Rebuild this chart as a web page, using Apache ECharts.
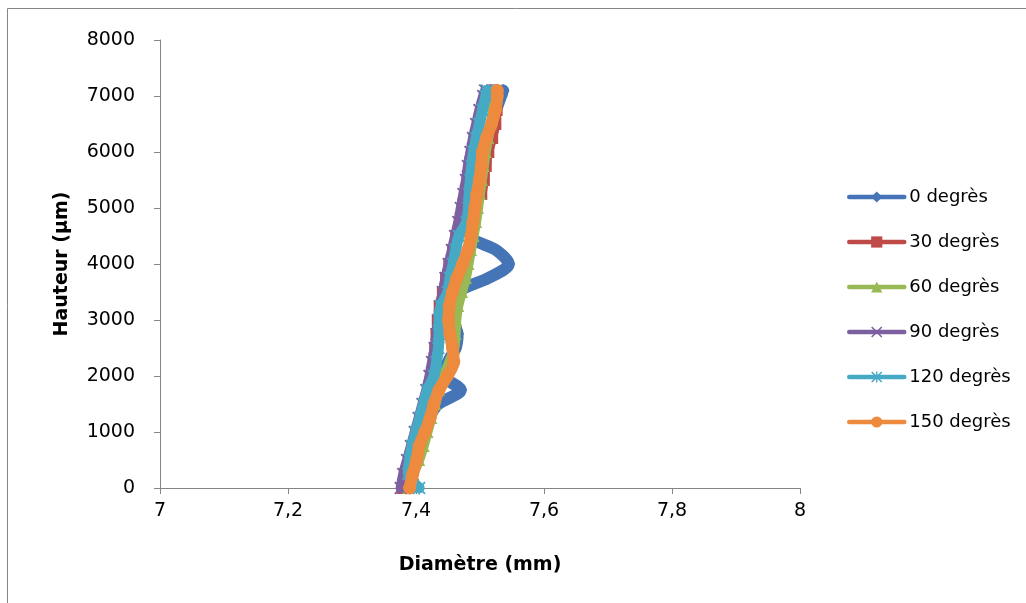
<!DOCTYPE html>
<html>
<head>
<meta charset="utf-8">
<script src="https://cdn.jsdelivr.net/npm/echarts@6/dist/echarts.min.js"></script>
<style>
html,body{margin:0;padding:0;background:#fff;}
#chart{width:1026px;height:603px;}
</style>
</head>
<body>
<div id="chart"></div>
<script>
// Heights (µm)
const heights = [0,250,500,750,1000,1250,1500,1750,2000,2250,2500,2750,3000,3250,3500,3750,4000,4250,4500,4750,5000,5250,5500,5750,6000,6250,6500,6750,7000,7100];
// Diameters (mm) per angle
const d0   = [7.385,7.392,7.398,7.405,7.412,7.420,7.435,7.470,7.445,7.450,7.462,7.465,7.458,7.458,7.465,7.513,7.545,7.525,7.485,7.488,7.492,7.496,7.500,7.503,7.507,7.512,7.518,7.525,7.533,7.536];
const d30  = [7.379,7.383,7.389,7.396,7.404,7.410,7.415,7.420,7.424,7.428,7.430,7.432,7.434,7.437,7.442,7.447,7.452,7.458,7.463,7.470,7.490,7.502,7.506,7.509,7.513,7.519,7.524,7.526,7.524,7.519];
const d60  = [7.388,7.396,7.405,7.412,7.418,7.424,7.430,7.436,7.443,7.452,7.460,7.462,7.463,7.466,7.472,7.478,7.482,7.486,7.490,7.494,7.497,7.500,7.503,7.506,7.509,7.513,7.517,7.520,7.522,7.522];
const d90  = [7.376,7.380,7.386,7.392,7.398,7.404,7.410,7.416,7.421,7.425,7.429,7.432,7.435,7.438,7.442,7.446,7.451,7.456,7.461,7.466,7.470,7.474,7.478,7.481,7.485,7.489,7.494,7.499,7.505,7.508];
const d120 = [7.405,7.388,7.390,7.394,7.400,7.406,7.412,7.418,7.428,7.432,7.435,7.436,7.436,7.439,7.450,7.453,7.458,7.462,7.467,7.479,7.482,7.483,7.485,7.487,7.490,7.494,7.499,7.504,7.509,7.511];
const d150 = [7.390,7.395,7.401,7.405,7.414,7.422,7.428,7.436,7.449,7.459,7.457,7.453,7.451,7.452,7.457,7.464,7.473,7.481,7.486,7.489,7.492,7.495,7.499,7.502,7.504,7.510,7.518,7.524,7.527,7.527];
const seriesNames = ['0 degrès','30 degrès','60 degrès','90 degrès','120 degrès','150 degrès'];
const xTitle = 'Diamètre (mm)';
const yTitle = 'Hauteur (µm)';

const colors = ['#4575B6','#BE4B48','#98B954','#7D60A0','#46AAC5','#EE8A3E'];
const XPATH = 'path://M0,1 L1,0 L5,4 L9,0 L10,1 L6,5 L10,9 L9,10 L5,6 L1,10 L0,9 L4,5 Z';
const STARPATH = 'path://M0,1 L1,0 L5,4 L9,0 L10,1 L6,5 L10,9 L9,10 L5,6 L1,10 L0,9 L4,5 Z M4.4,0 L5.6,0 L5.6,10 L4.4,10 Z';
const symbols = ['diamond','rect','triangle',XPATH,STARPATH,'circle'];
const allX = [d0,d30,d60,d90,d120,d150];
const widths = [12,10,10,10,11,12];
const sizes  = [13,12,12,13,13,13];

const FONT = 'DejaVu Sans';
const series = allX.map((xs, i) => ({
  name: seriesNames[i],
  type: 'line',
  data: xs.map((x, k) => [x, heights[k]]),
  smooth: 0.3,
  symbol: symbols[i],
  symbolSize: sizes[i],
  showSymbol: true,
  showAllSymbol: true,
  color: colors[i],
  lineStyle: { width: widths[i], color: colors[i], cap: 'round', join: 'round' },
  itemStyle: { color: colors[i] },
  emphasis: { disabled: true },
  animation: false,
  z: 2 + i
}));

const chart = echarts.init(document.getElementById('chart'), null, { renderer: 'canvas' });
chart.setOption({
  backgroundColor: '#fff',
  animation: false,
  graphic: [{
    type: 'polyline',
    shape: { points: [[7.5, 603], [7.5, 8.5], [1026, 8.5]] },
    style: { stroke: '#868686', lineWidth: 1, fill: null },
    silent: true
  }],
  grid: { left: 160, right: 226, top: 40, bottom: 115, containLabel: false },
  legend: {
    orient: 'vertical',
    left: 847,
    top: 188,
    padding: 0,
    itemWidth: 55,
    itemHeight: 14,
    itemGap: 27,
    lineStyle: { width: 4.5, cap: 'round' },
    textStyle: { fontFamily: FONT, fontSize: 18, color: '#000' },
    data: seriesNames,
    selectedMode: false
  },
  xAxis: {
    type: 'value',
    min: 7, max: 8, interval: 0.2,
    name: xTitle,
    nameLocation: 'middle',
    nameGap: 68,
    nameTextStyle: { fontFamily: FONT, fontSize: 19, fontWeight: 'bold', color: '#000' },
    axisLine: { show: true, onZero: false, lineStyle: { color: '#868686', width: 1 } },
    axisTick: { show: true, inside: false, length: 6, lineStyle: { color: '#868686' } },
    splitLine: { show: false },
    axisLabel: {
      fontFamily: FONT, fontSize: 19, color: '#000', margin: 14,
      formatter: v => String(Math.round(v * 10) / 10).replace('.', ',')
    }
  },
  yAxis: {
    type: 'value',
    min: 0, max: 8000, interval: 1000,
    name: yTitle,
    nameLocation: 'middle',
    nameGap: 88,
    nameRotate: 90,
    nameTextStyle: { fontFamily: FONT, fontSize: 19, fontWeight: 'bold', color: '#000' },
    axisLine: { show: true, onZero: false, lineStyle: { color: '#868686', width: 1 } },
    axisTick: { show: true, inside: false, length: 6, lineStyle: { color: '#868686' } },
    splitLine: { show: false },
    axisLabel: { fontFamily: FONT, fontSize: 19, color: '#000', margin: 25, formatter: v => String(v) }
  },
  series: series
});
</script>
</body>
</html>
